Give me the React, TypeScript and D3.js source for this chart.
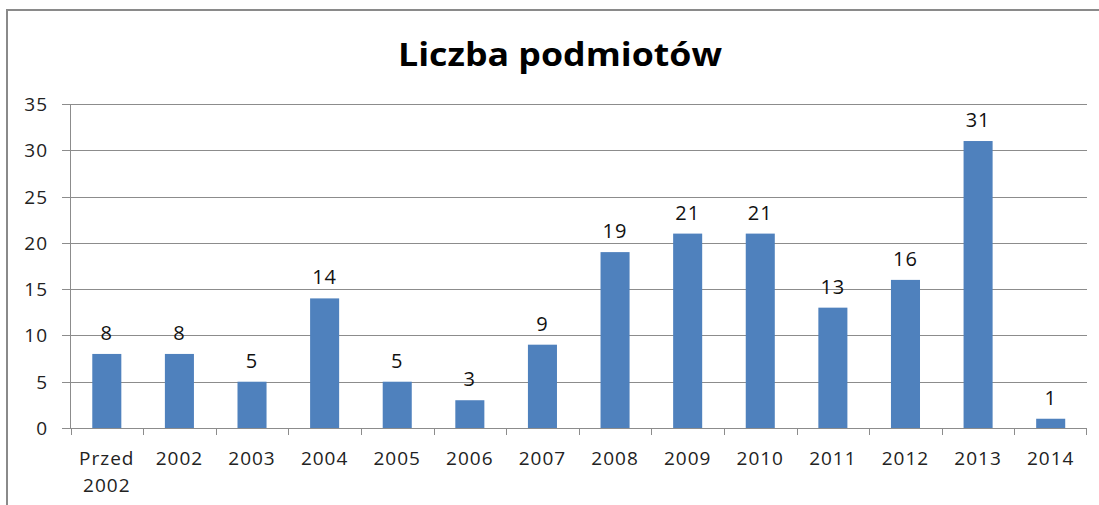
import React from "react";
import * as d3 from "d3";

const categories: string[][] = [["Przed", "2002"], ["2002"], ["2003"], ["2004"], ["2005"], ["2006"], ["2007"], ["2008"], ["2009"], ["2010"], ["2011"], ["2012"], ["2013"], ["2014"]];
const values: number[] = [8, 8, 5, 14, 5, 3, 9, 19, 21, 21, 13, 16, 31, 1];
const yTicks: number[] = [0, 5, 10, 15, 20, 25, 30, 35];
const title = "Liczba podmiotów";

export default function App() {
  const W = 1099, H = 505;
  const left = 70.5, right = 1087, top = 104, bottom = 428;
  const keys = categories.map((_, i) => String(i));
  const x = d3.scaleBand<string>().domain(keys).range([left, right]).paddingInner(0).paddingOuter(0);
  const y = d3.scaleLinear().domain([0, 35]).range([bottom, top]);
  const bw = x.bandwidth() * 0.4;
  const font = "'Open Sans', 'DejaVu Sans', sans-serif";
  const grid = "#8c8c8c";
  return (
    <svg width={W} height={H} style={{ position: "absolute", left: 0, top: 0, background: "#fff" }}>
      <rect x={7} y={10} width={W} height={H} fill="none" stroke="#8a8a8a" strokeWidth={2} />
      <text x={560} y={66} textAnchor="middle" fontFamily={font} fontWeight="bold" fontSize={32} fill="#000" textLength={324} lengthAdjust="spacingAndGlyphs">{title}</text>
      {yTicks.map((t) => (
        <g key={t}>
          <line x1={62} x2={right} y1={Math.round(y(t)) + 0.5} y2={Math.round(y(t)) + 0.5} stroke={grid} strokeWidth={1} />
          <text x={48} y={y(t) + 7} textAnchor="end" fontFamily={font} fontSize={19} letterSpacing={1} fill="#222">{t}</text>
        </g>
      ))}
      <line x1={left} x2={left} y1={top} y2={bottom} stroke={grid} strokeWidth={1} />
      {keys.map((k) => (
        <line key={"t" + k} x1={Math.round(x(k)!) + 0.5} x2={Math.round(x(k)!) + 0.5} y1={bottom} y2={bottom + 7} stroke={grid} />
      ))}
      <line x1={right - 0.5} x2={right - 0.5} y1={bottom} y2={bottom + 7} stroke={grid} />
      {values.map((v, i) => {
        const cx = x(keys[i])! + x.bandwidth() / 2;
        return (
          <g key={"b" + i}>
            <rect x={cx - bw / 2} y={y(v)} width={bw} height={bottom - y(v)} fill="#4f81bd" />
            <text x={cx} y={y(v) - 14} textAnchor="middle" fontFamily={font} fontSize={20} letterSpacing={1} fill="#111">{v}</text>
          </g>
        );
      })}
      {categories.map((lines, i) => {
        const cx = x(keys[i])! + x.bandwidth() / 2;
        return (
          <text key={"c" + i} x={cx} y={465} textAnchor="middle" fontFamily={font} fontSize={19} letterSpacing={1} fill="#222">
            {lines.map((l, j) => (
              <tspan key={j} x={cx} dy={j === 0 ? 0 : 27}>{l}</tspan>
            ))}
          </text>
        );
      })}
    </svg>
  );
}
